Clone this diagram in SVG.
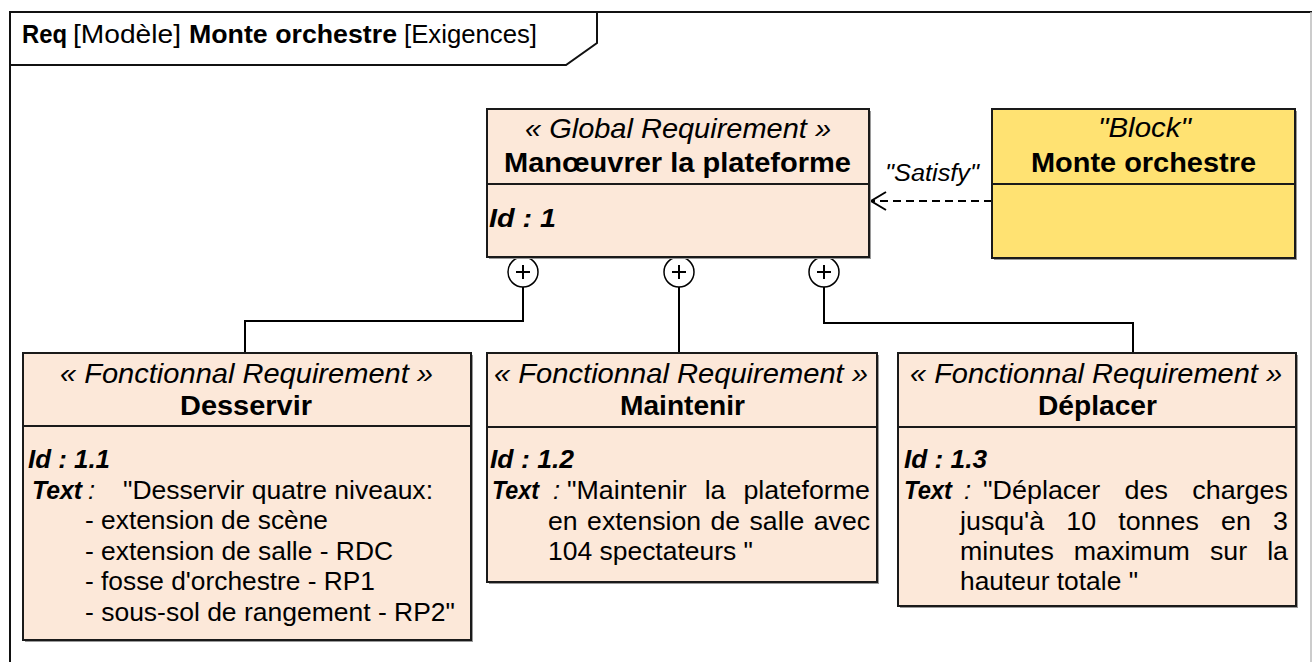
<svg xmlns="http://www.w3.org/2000/svg" width="1312" height="662" viewBox="0 0 1312 662">
<defs>
<style>
text{font-family:"Liberation Sans",Arial,Helvetica,sans-serif;fill:#000}
.box{fill:#FCE8D9;stroke:#1a1a1a;stroke-width:2}
.blk{fill:#FFE272;stroke:#1a1a1a;stroke-width:2}
.sh{fill:#9a9a9a}
.div{stroke:#1a1a1a;stroke-width:2;fill:none}
.frame{stroke:#111;stroke-width:2;fill:none}
.con{stroke:#000;stroke-width:2;fill:none}
.dash{stroke:#000;stroke-width:2;fill:none;stroke-dasharray:8 5}
.cir{fill:#fff;stroke:#000;stroke-width:1.5}
.plus{stroke:#000;stroke-width:2}
.st{font-size:27.5px;font-style:italic}
.nm{font-size:27.5px;font-weight:bold}
.id{font-size:25.5px;font-weight:bold;font-style:italic}
.tx{font-size:25.5px}
.ti{font-size:25px}
.b{font-weight:bold}
.it{font-style:italic}
</style>
<marker id="open" markerUnits="userSpaceOnUse" markerWidth="18" markerHeight="22" refX="15" refY="9" orient="auto" viewBox="-1 -1 18 20">
<path d="M0,0 L15,9 L0,18" fill="none" stroke="#000" stroke-width="2"/>
</marker>
</defs>
<rect x="0" y="0" width="1312" height="662" fill="#fff"/>

<g id="frame">
<path class="frame" d="M10,662 L10,12 L1312,12"/>
<line x1="1311" y1="12" x2="1311" y2="662" stroke="#bbb" stroke-width="1.5"/>
<path class="frame" d="M10,65 L566,65 L597,43 L597,12"/>
<text class="ti b" x="22" y="43" textLength="45" lengthAdjust="spacingAndGlyphs">Req</text>
<text class="ti" x="73" y="43" textLength="108" lengthAdjust="spacingAndGlyphs">[Modèle]</text>
<text class="ti b" x="189" y="43" textLength="208" lengthAdjust="spacingAndGlyphs">Monte orchestre</text>
<text class="ti" x="404" y="43" textLength="133" lengthAdjust="spacingAndGlyphs">[Exigences]</text>
</g>

<g id="connectors">
<path class="con" d="M523,287 L523,321 L245,321 L245,353"/>
<path class="con" d="M679,287 L679,353"/>
<path class="con" d="M824,287 L824,323 L1133,323 L1133,353"/>
<line class="dash" x1="992" y1="201" x2="871" y2="201" marker-end="url(#open)"/>
<text x="885" y="181" font-size="23" font-style="italic" textLength="94" lengthAdjust="spacingAndGlyphs">"Satisfy"</text>
<g id="containment-marks">
<circle class="cir" cx="523" cy="272" r="15"/>
<path class="plus" d="M516,272 h14 M523,265 v14"/>
<circle class="cir" cx="679" cy="272" r="15"/>
<path class="plus" d="M672,272 h14 M679,265 v14"/>
<circle class="cir" cx="824" cy="272" r="15"/>
<path class="plus" d="M817,272 h14 M824,265 v14"/>
</g>
</g>

<g id="global-requirement">
<rect class="sh" x="489" y="111" width="382" height="148"/>
<rect class="box" x="487" y="109" width="382" height="148"/>
<line class="div" x1="487" y1="184" x2="869" y2="184"/>
<text class="st" x="525" y="138" textLength="306" lengthAdjust="spacingAndGlyphs">« Global Requirement »</text>
<text class="nm" x="504" y="172" textLength="347" lengthAdjust="spacingAndGlyphs">Manœuvrer la plateforme</text>
<text class="id" x="489" y="227" font-size="27" textLength="67" lengthAdjust="spacingAndGlyphs">Id : 1</text>
</g>

<g id="block-monte-orchestre">
<rect class="sh" x="994" y="111" width="303" height="149"/>
<rect class="blk" x="992" y="109" width="303" height="149"/>
<line class="div" x1="992" y1="184" x2="1295" y2="184"/>
<text class="st" x="1098" y="137" textLength="93" lengthAdjust="spacingAndGlyphs">"Block"</text>
<text class="nm" x="1031" y="172" textLength="225" lengthAdjust="spacingAndGlyphs">Monte orchestre</text>
</g>

<g id="req-desservir">
<rect class="sh" x="25" y="355" width="448" height="287"/>
<rect class="box" x="23" y="353" width="448" height="287"/>
<line class="div" x1="23" y1="426" x2="471" y2="426"/>
<text class="st" x="60" y="383" textLength="373" lengthAdjust="spacingAndGlyphs">« Fonctionnal Requirement »</text>
<text class="nm" x="180" y="415" textLength="132" lengthAdjust="spacingAndGlyphs">Desservir</text>
<text class="id" x="28" y="468" textLength="82" lengthAdjust="spacingAndGlyphs">Id : 1.1</text>
<text class="id" x="32" y="499" textLength="50" lengthAdjust="spacingAndGlyphs">Text</text>
<text class="tx it" x="88" y="499">:</text>
<text class="tx" x="123" y="499" textLength="310" lengthAdjust="spacingAndGlyphs">"Desservir quatre niveaux:</text>
<text class="tx" x="85" y="529" textLength="243" lengthAdjust="spacingAndGlyphs">- extension de scène</text>
<text class="tx" x="85" y="560" textLength="308" lengthAdjust="spacingAndGlyphs">- extension de salle - RDC</text>
<text class="tx" x="85" y="590" textLength="290" lengthAdjust="spacingAndGlyphs">- fosse d'orchestre - RP1</text>
<text class="tx" x="85" y="621" textLength="370" lengthAdjust="spacingAndGlyphs">- sous-sol de rangement - RP2"</text>
</g>

<g id="req-maintenir">
<rect class="sh" x="489" y="355" width="390" height="229"/>
<rect class="box" x="487" y="353" width="390" height="229"/>
<line class="div" x1="487" y1="427" x2="877" y2="427"/>
<text class="st" x="494" y="383" textLength="374" lengthAdjust="spacingAndGlyphs">« Fonctionnal Requirement »</text>
<text class="nm" x="620" y="415" textLength="125" lengthAdjust="spacingAndGlyphs">Maintenir</text>
<text class="id" x="490" y="468" textLength="84" lengthAdjust="spacingAndGlyphs">Id : 1.2</text>
<text class="id" x="492" y="499" textLength="47" lengthAdjust="spacingAndGlyphs">Text</text>
<text class="tx it" x="553" y="499">:</text>
<text class="tx" x="567" y="499" word-spacing="10" textLength="303" lengthAdjust="spacingAndGlyphs">"Maintenir la plateforme</text>
<text class="tx" x="548" y="530" word-spacing="2" textLength="322" lengthAdjust="spacingAndGlyphs">en extension de salle avec</text>
<text class="tx" x="548" y="560" textLength="205" lengthAdjust="spacingAndGlyphs">104 spectateurs "</text>
</g>

<g id="req-deplacer">
<rect class="sh" x="900" y="355" width="398" height="253"/>
<rect class="box" x="898" y="353" width="398" height="253"/>
<line class="div" x1="898" y1="427" x2="1296" y2="427"/>
<text class="st" x="910" y="383" textLength="372" lengthAdjust="spacingAndGlyphs">« Fonctionnal Requirement »</text>
<text class="nm" x="1038" y="415" textLength="119" lengthAdjust="spacingAndGlyphs">Déplacer</text>
<text class="id" x="904" y="468" textLength="83" lengthAdjust="spacingAndGlyphs">Id : 1.3</text>
<text class="id" x="904" y="499" textLength="48" lengthAdjust="spacingAndGlyphs">Text</text>
<text class="tx it" x="964" y="499">:</text>
<text class="tx" x="983" y="499" word-spacing="16" textLength="305" lengthAdjust="spacingAndGlyphs">"Déplacer des charges</text>
<text class="tx" x="960" y="530" word-spacing="14" textLength="328" lengthAdjust="spacingAndGlyphs">jusqu'à 10 tonnes en 3</text>
<text class="tx" x="960" y="560" word-spacing="12" textLength="328" lengthAdjust="spacingAndGlyphs">minutes maximum sur la</text>
<text class="tx" x="960" y="590" textLength="178" lengthAdjust="spacingAndGlyphs">hauteur totale "</text>
</g>
</svg>
